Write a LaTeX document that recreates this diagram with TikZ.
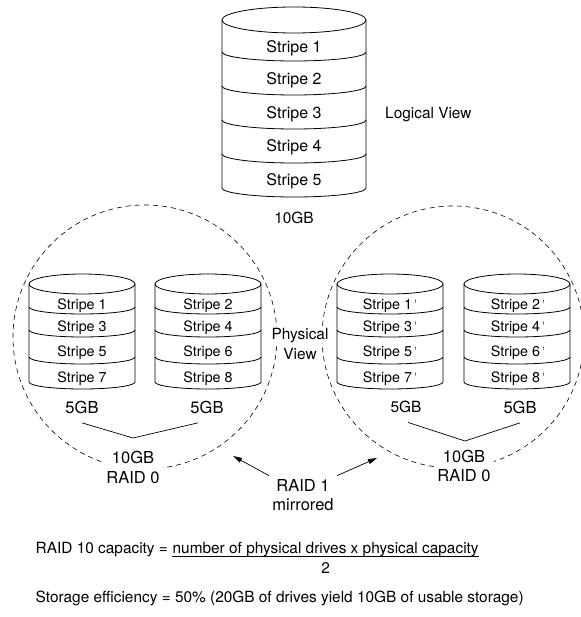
\documentclass[tikz,border=0pt]{standalone}
\usepackage{fontspec}
\setmainfont{TeX Gyre Heros}
\usetikzlibrary{positioning, arrows.meta}

% one drum: centre x, x radius, lid y, lid radius, floor y, dip, seams
\newcommand{\drum}[7]{%
  \draw[disk] (#1,#3) ellipse [x radius=#2, y radius=#4];
  \draw[disk] (#1-#2,#3) -- (#1-#2,#5)
    arc [start angle=180, end angle=0, x radius=#2, y radius=#6] -- (#1+#2,#3);
  \foreach \s in {#7}
    \draw[disk] (#1-#2,\s) arc [start angle=180, end angle=0, x radius=#2, y radius=#6];
}
\newcommand{\cpy}{\,\raisebox{0.8ex}{\fontsize{5}{5}\selectfont 1}}

\begin{document}
\begin{tikzpicture}[x=1pt, y=-1pt,
    disk/.style={line width=0.8pt},
    ring/.style={line width=0.6pt, dash pattern=on 5pt off 4pt},
    wire/.style={line width=0.7pt},
    big/.style={font=\fontsize{16}{19}\selectfont, anchor=base},
    small/.style={font=\fontsize{14.3}{17}\selectfont, anchor=base},
    lbl/.style={font=\fontsize{15.4}{20}\selectfont},
    tag/.style={font=\fontsize{16.5}{19.5}\selectfont, align=center}]
  \useasboundingbox (0,0) rectangle (580,617);

  \draw[ring] (145,337) circle [radius=132];
  \draw[ring] (453,337) circle [radius=131];

  % logical view
  \drum{294}{72}{20}{13}{188}{9}{52,86,120,154}
  \foreach \n/\y in {1/52.8,2/84.8,3/118.8,4/151.8,5/185.8}
    \node[big] (lv\n) at (294,\y) {Stripe \n};
  \node[lbl, anchor=base west, inner sep=0pt] (logical) at (385,118.5) {Logical View};
  \node[lbl] (total) at (294,218) {10GB};

  % physical view
  \drum{82}{53}{284}{10}{382}{7}{307,330,357}
  \drum{208}{53}{284}{10}{382}{7}{307,330,357}
  \drum{390}{53}{284}{10}{382}{7}{307,330,357}
  \drum{517}{53}{284}{10}{382}{7}{307,330,357}
  \foreach \k/\y [count=\i] in {1/309.2,3/331.2,5/356.2,7/382.2}
    \node[small] (pa\i) at (82,\y) {Stripe \k};
  \foreach \k/\y [count=\i] in {2/309.2,4/331.2,6/356.2,8/382.2}
    \node[small] (pb\i) at (208,\y) {Stripe \k};
  \foreach \k/\y [count=\i] in {1/309.2,3/331.2,5/356.2,7/382.2}
    \node[small] (pc\i) at (390,\y) {Stripe \k\cpy};
  \foreach \k/\y [count=\i] in {2/309.2,4/331.2,6/356.2,8/382.2}
    \node[small] (pd\i) at (518,\y) {Stripe \k\cpy};
  \node[lbl, align=center] (physical) at (300,343)
    {{\setlength{\fboxsep}{1pt}\colorbox{white}{Physical}}\\View};

  \node[tag] (ga) at (82,407) {5GB};
  \node[tag] (gb) at (207,407) {5GB};
  \node[lbl] (gc) at (406,407) {5GB};
  \node[tag] (gd) at (520,407) {5GB};
  \coordinate (va) at (133,438);
  \coordinate (vb) at (465,441);
  \draw[wire] ([yshift=-6pt]ga.south) -- (va) -- ([shift={(-9pt,-6pt)}]gb.south);
  \draw[wire] ([shift={(2pt,-6pt)}]gc.south) -- (vb) -- ([yshift=-6pt]gd.south);

  \node[tag, fill=white, inner sep=3pt] (ra) at (133,467.5) {10GB\\RAID 0};
  \node[tag, fill=white, inner sep=3pt] (rb) at (464,466) {10GB\\RAID 0};
  \node[tag] (mirror) at (303,495) {RAID 1\\mirrored};
  \coordinate (ta) at (233,456);
  \coordinate (tb) at (377,458);
  \draw[wire, -{Triangle[length=9pt, width=5pt]}] (mirror.north west) -- (ta);
  \draw[wire, -{Triangle[length=9pt, width=5pt]}] (mirror.north east) -- (tb);

  % capacity
  \node[lbl, anchor=base west, inner sep=0pt] (rule) at (35.5,553) {RAID 10 capacity =};
  \node[lbl, anchor=base west, inner sep=0pt] (num) at ([xshift=4.3pt]rule.base east)
    {number of physical drives x physical capacity};
  \draw[wire] ([yshift=-3pt]num.base west) -- ([yshift=-3pt]num.base east);
  \node[lbl, anchor=north, inner sep=0pt] (den) at ([yshift=-9.5pt]num.base) {2};
  \node[lbl, anchor=base west, inner sep=0pt] (yield) at (35.5,602.5)
    {Storage efficiency = 50\% (20GB of drives yield 10GB of usable storage)};
\end{tikzpicture}
\end{document}
